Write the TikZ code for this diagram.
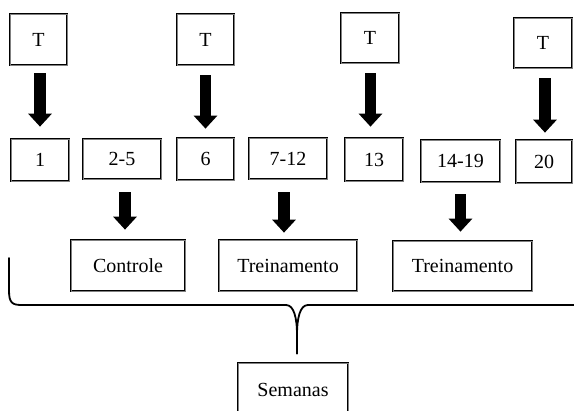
\documentclass[tikz,border=0pt]{standalone}
\usepackage{fontspec}
\setmainfont{Liberation Serif}
\usetikzlibrary{arrows.meta}
\begin{document}
\begin{tikzpicture}[x=1pt,y=-1pt,
  box/.style={draw=black,double=black!50,double distance=0.9pt,line width=0.7pt,inner sep=0pt,font=\fontsize{20}{24}\selectfont},
  blk/.style={line width=11.5pt,-{Triangle[width=23pt,length=13pt]}},
  brace/.style={line width=1.8pt,line cap=round},
]
\useasboundingbox (0,0) rectangle (574,411);
\clip (0,0) rectangle (574,411);
% T boxes
\node[box,minimum width=57pt,minimum height=51pt] (T1) at (38.5,39.5) {T};
\node[box,minimum width=57pt,minimum height=51pt] (T2) at (205.5,39.5) {T};
\node[box,minimum width=58pt,minimum height=50pt] (T3) at (370,38) {T};
\node[box,minimum width=58pt,minimum height=50pt] (T4) at (543,43) {T};
% week boxes
\node[box,minimum width=58pt,minimum height=42pt] (n1) at (40,160) {1};
\node[box,minimum width=78pt,minimum height=40pt] (n25) at (122,159) {2-5};
\node[box,minimum width=57pt,minimum height=42pt] (n6) at (205.5,159) {6};
\node[box,minimum width=78pt,minimum height=41pt] (n712) at (288,158.5) {7-12};
\node[box,minimum width=58pt,minimum height=43pt] (n13) at (374,159.5) {13};
\node[box,minimum width=79pt,minimum height=42pt] (n1419) at (460.5,161) {14-19};
\node[box,minimum width=56pt,minimum height=43pt] (n20) at (544,161.5) {20};
% phase boxes
\node[box,minimum width=114pt,minimum height=51pt] (ctrl) at (128,265.5) {Controle};
\node[box,minimum width=138pt,minimum height=51pt] (tr1) at (288,265.5) {Treinamento};
\node[box,minimum width=139pt,minimum height=50pt] (tr2) at (462.5,266) {Treinamento};
\node[box,minimum width=110pt,minimum height=54pt] (sem) at (293,390) {Semanas};
% top arrows
\draw[blk,shorten <=8pt,shorten >=12pt] (n1.north |- T1.south) -- (n1.north);
\draw[blk,shorten <=10pt,shorten >=9pt] (T2.south) -- (T2.south |- n6.north);
\draw[blk,shorten <=10pt,shorten >=11pt] ([xshift=0.5pt]T3.south) -- ([xshift=0.5pt]T3.south |- n13.north);
\draw[blk,shorten <=10pt,shorten >=7pt] ([xshift=2pt]T4.south) -- ([xshift=2pt]T4.south |- n20.north);
% bottom arrows
\draw[blk,shorten <=13pt,shorten >=10pt] ([xshift=3pt]n25.south) -- ([xshift=3pt]n25.south |- ctrl.north);
\draw[blk,shorten <=13pt,shorten >=7pt] ([xshift=-4pt]n712.south) -- ([xshift=-4pt]n712.south |- tr1.north);
\draw[blk,shorten <=12pt,shorten >=9pt] (n1419.south) -- (n1419.south |- tr2.north);
% brace
\coordinate (tip) at ([xshift=4pt,yshift=9pt]sem.north);
\coordinate (bl) at (9,258);
\draw[brace] (bl) -- (9,290) .. controls (9,303) and (12,305) .. (22,305) -- (286,305)
  .. controls (294,305) and (297,318) .. (297,335) -- (tip);
\draw[brace] (297,335) .. controls (297,318) and (300,305) .. (308,305) -- (590,305);
\end{tikzpicture}
\end{document}
